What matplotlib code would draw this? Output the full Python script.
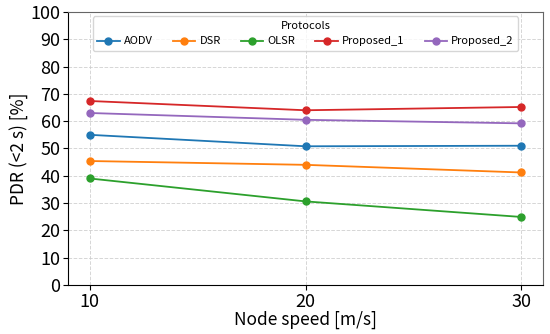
import matplotlib.pyplot as plt
import numpy as np

plt.rcParams['font.family'] = ['Noto Sans CJK JP', 'DejaVu Sans']

# Data
speeds = [10, 20, 30]
protocols = ['AODV', 'DSR', 'OLSR', 'Proposed_1', 'Proposed_2']
pdr = {
    'AODV': [55.0, 50.8, 51.0],
    'DSR': [45.4, 44.0, 41.2],
    'OLSR': [39.0, 30.6, 24.9],
    'Proposed_1': [67.4, 64.0, 65.2],
    'Proposed_2': [63.0, 60.5, 59.2],
}
colors = ['#1f77b4', '#ff7f0e', '#2ca02c', '#d62728', '#9467bd']

fig, ax = plt.subplots(figsize=(5.5, 3.34), dpi=100)

for name, c in zip(protocols, colors):
    ax.plot(speeds, pdr[name], marker='o', markersize=5, linewidth=1.3,
            color=c, label=name)

ax.set_xlim(9, 31)
ax.set_ylim(0, 100)
ax.set_xticks(speeds)
ax.set_yticks(np.arange(0, 101, 10))
ax.set_xlabel('Node speed [m/s]', fontsize=12.5, labelpad=0)
ax.set_ylabel('PDR (<2 s) [%]', fontsize=12.5, labelpad=2)
ax.tick_params(axis='both', labelsize=13, pad=2)
ax.grid(True, linestyle='--', color='#cccccc', linewidth=0.7, alpha=0.8)
for side in ['top', 'right']:
    ax.spines[side].set_color('#666666')

ax.legend(title='Protocols', ncol=5, loc='upper center', fontsize=8,
          title_fontsize=8, handlelength=2.0, handletextpad=0.4,
          columnspacing=1.8, borderaxespad=0.4)

plt.subplots_adjust(left=0.124, right=0.987, top=0.964, bottom=0.147)
plt.savefig('out.png')
